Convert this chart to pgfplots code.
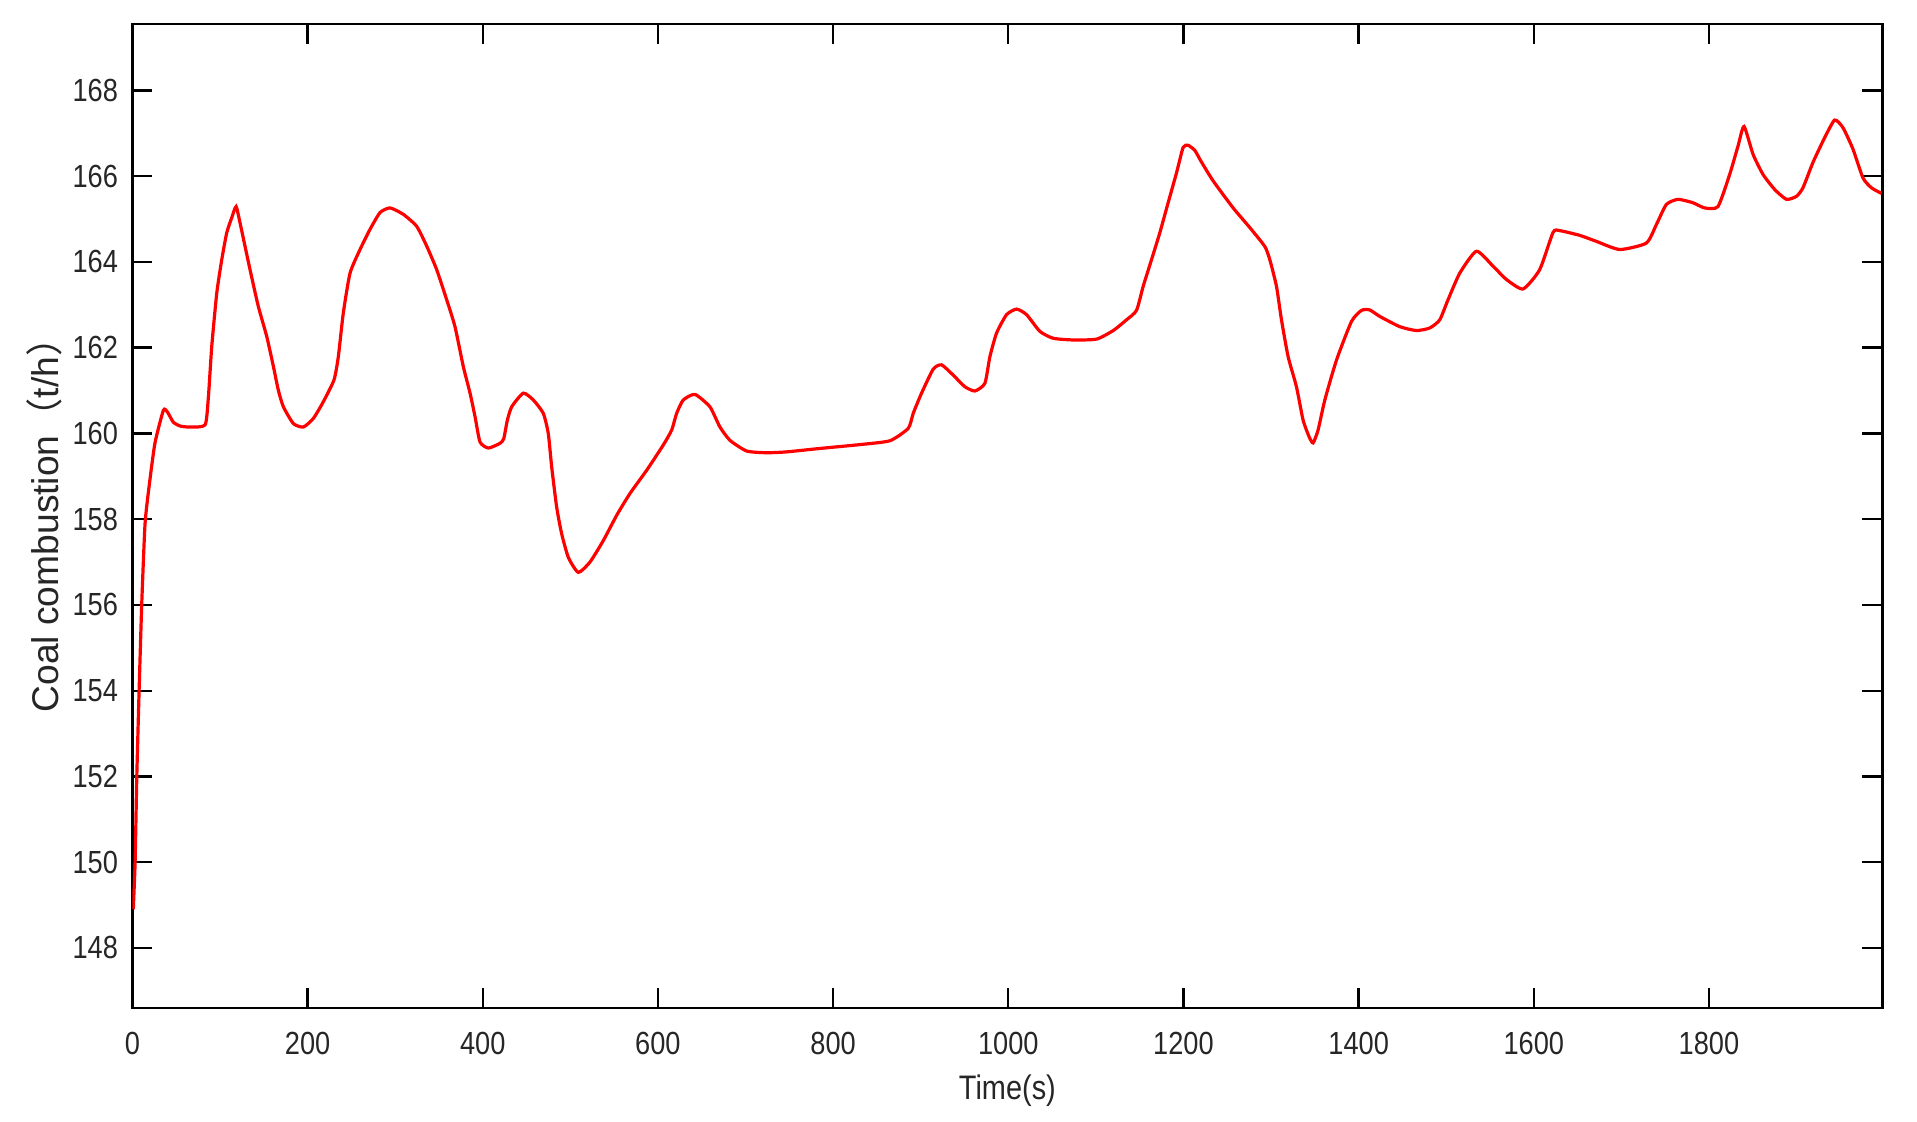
\documentclass[border=0pt]{standalone}
\usepackage{fontspec}
\setmainfont{Liberation Sans}[FakeStretch=0.85]
\newfontfamily\ylabfont{Liberation Sans}
\newfontfamily\cjk{Noto Sans CJK SC}
\usepackage{pgfplots}
\pgfplotsset{compat=1.18}
\definecolor{txt}{HTML}{262626}

\begin{document}
\begin{tikzpicture}
\path[use as bounding box] (-33.1pt,-28.3pt) rectangle (446.15pt,252pt);
\begin{axis}[
  at={(0,0)}, anchor=south west,
  width=437.5pt, height=246pt, scale only axis,
  xmin=0, xmax=1998, ymin=146.6, ymax=169.55,
  xtick={0,200,...,1800}, ytick={148,150,...,168},
  scaled ticks=false,
  /pgf/number format/1000 sep={},
  /pgf/number format/assume math mode=true,
  tick align=inside, major tick length=5pt,
  tick style={line width=0.6pt, black},
  axis line style={line width=0.6pt, black},
  tick label style={font=\fontsize{8}{9}\selectfont, text=txt, inner sep=0pt},
  xticklabel style={anchor=north, yshift=-5.8pt},
  yticklabel style={anchor=east, xshift=-3.4pt},
  xlabel={Time(s)},
  xlabel style={at={(axis description cs:0.5,0)}, anchor=base, yshift=-23pt,
    font=\fontsize{8.5}{9}\selectfont, text=txt, inner sep=0pt},
  ylabel={Coal combustion{\cjk （}t/h{\cjk ）}},
  ylabel style={at={(axis description cs:0,0.5)}, anchor=center, rotate=0, yshift=22pt,
    font=\ylabfont\fontsize{9.3}{10}\selectfont, text=txt, inner sep=0pt},
]
\addplot[red, line width=0.8pt, smooth, tension=0.35] coordinates {
(1,148.9) (3.1,150.0) (5,151.98) (7.6,153.96) (10.7,156.04) (14.5,157.91)
(20.2,158.95) (25.9,159.79) (35.4,160.54) (40,160.5) (46.8,160.26) (55,160.17)
(65.9,160.15) (83,160.2) (86.8,160.86) (90.6,162.03) (96.3,163.27) (102,164.05)
(107.7,164.68) (113.4,165.03) (118.4,165.29) (122.9,164.91) (134.3,163.82)
(143.8,162.96) (153.4,162.26) (161,161.56) (166.6,161.01) (172.4,160.62)
(183.8,160.23) (195.2,160.15) (206.6,160.35) (218,160.74) (230.2,161.25)
(235.1,161.79) (240.8,162.81) (248.5,163.74) (259.9,164.29) (271.3,164.76)
(282.7,165.15) (294.1,165.26) (309.3,165.11) (324.6,164.83) (336,164.37)
(347.4,163.82) (358.8,163.12) (368.3,162.49) (377.8,161.56) (385.5,160.94)
(391.2,160.39) (396.9,159.8) (406.4,159.66) (419.7,159.77) (424,159.88)
(428,160.3) (433,160.62) (446.3,160.94) (457.7,160.78) (469.1,160.47)
(474.8,160.0) (478.7,159.22) (484.4,158.28) (490.1,157.66) (497.7,157.11)
(509.1,156.76) (522.4,157.0) (537.6,157.5) (552.9,158.09) (568.1,158.6)
(587.1,159.14) (606.1,159.73) (615.7,160.08) (621.4,160.47) (628.9,160.78)
(642.3,160.91) (659.4,160.62) (670.8,160.15) (682.2,159.84) (701.3,159.59)
(724.1,159.55) (746.9,159.57) (784.9,159.65) (830.6,159.74) (864.9,159.83)
(885.8,160.12) (891.5,160.47) (901,160.94) (914.3,161.5) (923.8,161.6)
(937.1,161.36) (950.4,161.09) (961.9,160.99) (973.3,161.17) (979,161.79)
(986.6,162.34) (998,162.77) (1009.5,162.9) (1020.9,162.77) (1036.1,162.38)
(1051.3,162.22) (1074.1,162.18) (1100.8,162.2) (1119.8,162.4) (1135,162.65)
(1146.4,162.87) (1154,163.43) (1163.5,164.05) (1173,164.68) (1182.5,165.38)
(1192.1,166.08) (1199.6,166.67) (1205.3,166.72) (1213,166.6) (1220,166.35)
(1233.9,165.89) (1256.7,165.26) (1275.8,164.8) (1292.9,164.36) (1298.6,164.05)
(1306.2,163.43) (1311.9,162.65) (1319.5,161.79) (1329,161.09) (1336.6,160.31)
(1343.5,159.92) (1348,159.78) (1353.7,160.08) (1361.4,160.78) (1374.7,161.71)
(1391.8,162.61) (1403.2,162.87) (1412.7,162.88) (1424.1,162.73) (1447,162.49)
(1466,162.4) (1481.2,162.46) (1492.6,162.65) (1502.1,163.12) (1515.5,163.74)
(1534.5,164.25) (1553.5,163.9) (1568.8,163.59) (1587.7,163.37) (1606.7,163.82)
(1622,164.69) (1629.6,164.73) (1652.4,164.62) (1671.4,164.48) (1698,164.29)
(1728.5,164.44) (1739.9,164.87) (1751.3,165.34) (1764.6,165.46) (1781.7,165.38)
(1795,165.26) (1810.2,165.29) (1823.6,166.04) (1833.1,166.7) (1840,167.16)
(1850.3,166.51) (1861.7,166.04) (1875,165.69) (1888.4,165.46) (1899.8,165.53)
(1907.3,165.73) (1918.7,166.32) (1932.1,166.9) (1943.5,167.31) (1953,167.13)
(1964.4,166.63) (1975.8,165.96) (1985.4,165.73) (1996.8,165.6)
};
\end{axis}
\end{tikzpicture}
\end{document}
